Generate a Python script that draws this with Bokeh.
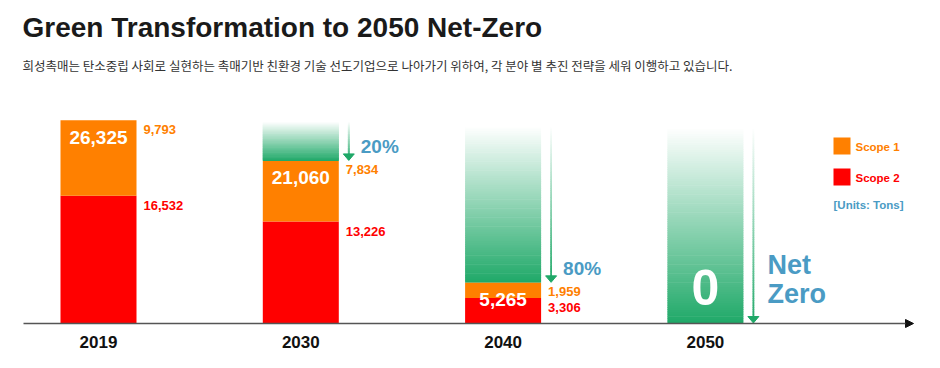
from bokeh.plotting import figure
from bokeh.models import Range1d, Arrow, NormalHead
from bokeh.core.properties import value
from bokeh.embed import file_html
from bokeh.resources import INLINE
import numpy as np

# ---------------- data ----------------
years = ["2019", "2030", "2040", "2050"]
scope1 = [9793, 7834, 1959, 0]
scope2 = [16532, 13226, 3306, 0]
reduction_labels = ["", "20%", "80%", "Net Zero"]
legend_labels = ["Scope 1", "Scope 2"]
units_label = "[Units: Tons]"
title_text = "Green Transformation to 2050 Net-Zero"
subtitle_text = ("희성촉매는 탄소중립 사회로 실현하는 촉매기반 친환경 기술 선도기업으로 "
                 "나아가기 위하여, 각 분야 별 추진 전략을 세워 이행하고 있습니다.")

totals = [a + b for a, b in zip(scope1, scope2)]

# ---------------- styling ----------------
ORANGE = "#FF8000"
RED = "#FF0000"
GREEN = "#1FA868"
BLUE = "#4A9BC4"
FONT = value("Liberation Sans")

W, H = 930, 358
PX_X = 202.3      # pixels per category step
PX_Y = 0.00772    # pixels per ton
X0 = -98 / PX_X
X1 = X0 + W / PX_X
Y1 = 323 / PX_Y
Y0 = Y1 - H / PX_Y


def dx(px):
    return px / PX_X


def dy(px):
    return px / PX_Y


def sx(px):
    return X0 + px / PX_X


def sy(py):
    return Y1 - py / PX_Y


def mix_white(c, t):
    r, g, b = int(c[1:3], 16), int(c[3:5], 16), int(c[5:7], 16)
    r = r + (255 - r) * t
    g = g + (255 - g) * t
    b = b + (255 - b) * t
    return "#%02x%02x%02x" % (int(round(r)), int(round(g)), int(round(b)))


p = figure(width=W, height=H, x_range=Range1d(X0, X1), y_range=Range1d(Y0, Y1),
           toolbar_location=None, output_backend="svg", min_border=0,
           outline_line_color=None)
p.axis.visible = False
p.grid.visible = False
p.background_fill_color = "white"
p.border_fill_color = "white"

xs = np.arange(len(years))
bw = 76 / PX_X

# ---------------- gradient "reduction" areas and arrows ----------------
N = 90
base = totals[0]
gl, gr, gb, gt, gc = [], [], [], [], []
al, ar, ab, at, ac = [], [], [], [], []
head_xs, head_ys = [], []
for i in range(1, len(years)):
    lo, hi = totals[i], base
    xa = xs[i] + bw / 2 + dx(10)
    for k in range(N):
        t0, t1 = k / N, (k + 1) / N
        col = mix_white(GREEN, min(1.0, ((t0 + t1) / 2) * 1.04))
        b_ = lo + (hi - lo) * t0
        t_ = lo + (hi - lo) * t1 + dy(0.6)
        gl.append(xs[i] - bw / 2); gr.append(xs[i] + bw / 2)
        gb.append(b_); gt.append(min(t_, hi)); gc.append(col)
        al.append(xa - dx(0.9)); ar.append(xa + dx(0.9))
        ab.append(max(b_, lo + dy(5))); at.append(min(t_, hi)); ac.append(col)
    head_xs.append([xa - dx(5.5), xa + dx(5.5), xa])
    head_ys.append([lo + dy(7), lo + dy(7), lo + dy(0.5)])

p.quad(left=gl, right=gr, bottom=gb, top=gt, fill_color=gc, line_color=None)
p.quad(left=al, right=ar, bottom=ab, top=at, fill_color=ac, line_color=None)
p.patches(xs=head_xs, ys=head_ys, fill_color=GREEN, line_color=GREEN)

# ---------------- stacked bars ----------------
p.vbar(x=xs, bottom=0, top=scope2, width=bw, fill_color=RED, line_color=None)
p.vbar(x=xs, bottom=scope2, top=totals, width=bw, fill_color=ORANGE, line_color=None)

# ---------------- labels ----------------
# totals inside bars
for i in range(len(years)):
    if totals[i] > 0:
        off = min(17, totals[i] * PX_Y / 2)
        p.text(x=[xs[i]], y=[totals[i]], text=[f"{totals[i]:,}"], y_offset=off,
               text_align="center", text_baseline="middle", text_color="white",
               text_font=FONT, text_font_style="bold", text_font_size="19px")
    else:
        p.text(x=[xs[i]], y=[0], text=[f"{totals[i]:,}"], y_offset=-36,
               text_align="center", text_baseline="middle", text_color="white",
               text_font=FONT, text_font_style="bold", text_font_size="50px")

# side values
side_x = [x + bw / 2 + dx(7) for x in xs[:3]]
p.text(x=side_x, y=totals[:3], text=[f"{v:,}" for v in scope1[:3]], y_offset=9,
       text_align="left", text_baseline="middle", text_color=ORANGE,
       text_font=FONT, text_font_style="bold", text_font_size="13px")
p.text(x=side_x, y=scope2[:3], text=[f"{v:,}" for v in scope2[:3]], y_offset=10,
       text_align="left", text_baseline="middle", text_color=RED,
       text_font=FONT, text_font_style="bold", text_font_size="13px")

# reduction labels
for i in range(1, len(years)):
    xa = xs[i] + bw / 2 + dx(10)
    words = reduction_labels[i].split()
    if len(words) == 1:
        p.text(x=[xa + dx(12)], y=[totals[i]], text=[words[0]], y_offset=-14,
               text_align="left", text_baseline="middle", text_color=BLUE,
               text_font=FONT, text_font_style="bold", text_font_size="19px")
    else:
        for j, w in enumerate(words):
            p.text(x=[xa + dx(14)], y=[totals[i]], text=[w],
                   y_offset=-59 + 29 * j,
                   text_align="left", text_baseline="middle", text_color=BLUE,
                   text_font=FONT, text_font_style="bold", text_font_size="27px")

# year labels
p.text(x=xs, y=[0] * len(years), text=years, y_offset=18,
       text_align="center", text_baseline="middle", text_color="#111111",
       text_font=FONT, text_font_style="bold", text_font_size="17px")

# baseline axis with arrow
p.add_layout(Arrow(x_start=sx(23), y_start=0, x_end=sx(913), y_end=0,
                   line_color="#555555", line_width=1.5,
                   end=NormalHead(size=8, fill_color="#111111", line_color="#111111")))

# legend
leg_cols = [ORANGE, RED]
for j, (lab, col) in enumerate(zip(legend_labels, leg_cols)):
    cy = 145.5 + 31 * j
    p.rect(x=[sx(841.5)], y=[sy(cy)], width=dx(17), height=dy(17),
           fill_color=col, line_color=None)
    p.text(x=[sx(855)], y=[sy(cy + 1)], text=[lab], text_align="left",
           text_baseline="middle", text_color=col, text_font=FONT,
           text_font_style="bold", text_font_size="11.5px")
p.text(x=[sx(833)], y=[sy(204)], text=[units_label], text_align="left",
       text_baseline="middle", text_color=BLUE, text_font=FONT,
       text_font_style="bold", text_font_size="11.5px")

# title & subtitle
p.text(x=[sx(22)], y=[sy(27)], text=[title_text], text_align="left",
       text_baseline="middle", text_color="#1a1a1a", text_font=FONT,
       text_font_style="bold", text_font_size="28px")
p.text(x=[sx(22)], y=[sy(65)], text=[subtitle_text], text_align="left",
       text_baseline="middle", text_color="#333333",
       text_font=value("Noto Sans CJK KR"), text_font_size="12.5px")

open("out.html", "w").write(file_html(p, INLINE))
